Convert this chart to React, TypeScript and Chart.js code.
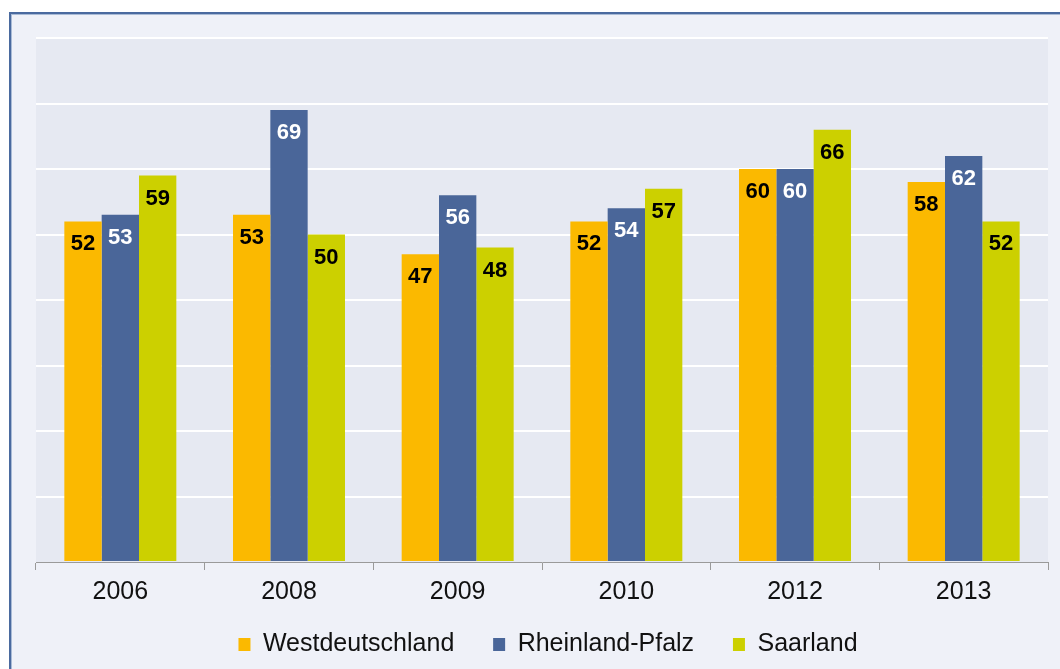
import React, { useEffect, useRef } from "react";
import { Chart, registerables } from "chart.js";

Chart.register(...registerables);

const years = ["2006", "2008", "2009", "2010", "2012", "2013"];
const westdeutschland = [52, 53, 47, 52, 60, 58];
const rheinlandPfalz = [53, 69, 56, 54, 60, 62];
const saarland = [59, 50, 48, 57, 66, 52];
const seriesNames = ["Westdeutschland", "Rheinland-Pfalz", "Saarland"];
const seriesColors = ["#FBB900", "#4A6699", "#CCD000"];
const labelColors = ["#000000", "#FFFFFF", "#000000"];

const FONT = "'Liberation Sans', Arial, Helvetica, sans-serif";

const plotBackground = {
  id: "plotBackground",
  beforeDraw(chart: any) {
    const { ctx, chartArea } = chart;
    ctx.save();
    ctx.fillStyle = "#E6E9F2";
    ctx.fillRect(chartArea.left, chartArea.top, chartArea.right - chartArea.left, chartArea.bottom - chartArea.top);
    ctx.restore();
  },
};

const valueLabels = {
  id: "valueLabels",
  afterDatasetsDraw(chart: any) {
    const { ctx } = chart;
    ctx.save();
    ctx.font = `bold 22px ${FONT}`;
    ctx.textAlign = "center";
    ctx.textBaseline = "middle";
    chart.data.datasets.forEach((ds: any, di: number) => {
      const meta = chart.getDatasetMeta(di);
      meta.data.forEach((el: any, i: number) => {
        ctx.fillStyle = labelColors[di];
        ctx.fillText(String(ds.data[i]), el.x, el.y + 23);
      });
    });
    ctx.restore();
  },
};

export default function App() {
  const ref = useRef<HTMLCanvasElement>(null);
  useEffect(() => {
    if (!ref.current) return;
    const data = [westdeutschland, rheinlandPfalz, saarland];
    const chart = new Chart(ref.current, {
      type: "bar",
      data: {
        labels: years,
        datasets: data.map((d, i) => ({
          label: seriesNames[i],
          data: d,
          backgroundColor: seriesColors[i],
          borderWidth: 0,
          categoryPercentage: 0.664,
          barPercentage: 1,
        })),
      },
      options: {
        responsive: false,
        animation: false,
        layout: { padding: { left: 36, right: 0, top: 38, bottom: 2 } },
        plugins: {
          legend: {
            position: "bottom",
            labels: {
              boxWidth: 12,
              boxHeight: 13,
              padding: 18,
              color: "#111111",
              font: { family: FONT, size: 25 },
              generateLabels: (chart: any) => {
                const items = Chart.defaults.plugins.legend.labels.generateLabels(chart);
                return items.map((it: any, i: number) => ({
                  ...it,
                  text: i < items.length - 1 ? it.text + "   " : it.text,
                  lineWidth: 0,
                }));
              },
            },
          },
          tooltip: { enabled: false },
        },
        scales: {
          x: {
            grid: {
              drawOnChartArea: false,
              drawTicks: true,
              tickLength: 8,
              color: "#9A9A9A",
              offset: true,
            },
            border: { display: true, color: "#9A9A9A", width: 1 },
            ticks: {
              padding: 7,
              color: "#111111",
              font: { family: FONT, size: 25 },
            },
          },
          y: {
            position: "right",
            min: 0,
            max: 80,
            afterFit: (scale: any) => {
              scale.width = 12;
            },
            ticks: { display: false, stepSize: 10 },
            border: { display: false },
            grid: {
              drawTicks: false,
              lineWidth: 2,
              color: (c: any) => (c.tick && c.tick.value === 0 ? "rgba(0,0,0,0)" : "#FFFFFF"),
            },
          },
        },
      },
      plugins: [plotBackground, valueLabels],
    });
    return () => chart.destroy();
  }, []);

  return (
    <div
      style={{
        position: "fixed",
        left: 0,
        top: 0,
        width: 1060,
        height: 669,
        background: "#FFFFFF",
        overflow: "hidden",
      }}
    >
      <div
        style={{
          position: "absolute",
          left: 9,
          top: 12,
          right: 0,
          bottom: 0,
          background: "#EFF1F8",
          borderTop: "2px solid #4A6A9F",
          borderLeft: "2px solid #4A6A9F",
          boxShadow: "inset 1px 1px 0 #A9BBD6",
        }}
      />
      <canvas
        ref={ref}
        width={1060}
        height={669}
        style={{ position: "absolute", left: 0, top: 0, width: 1060, height: 669 }}
      />
    </div>
  );
}
